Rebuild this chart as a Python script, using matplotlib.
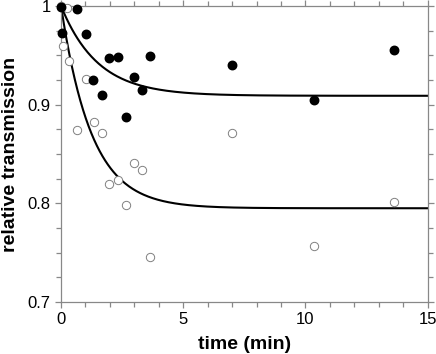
import numpy as np
import matplotlib
matplotlib.use("Agg")
import matplotlib.pyplot as plt
from matplotlib.ticker import MultipleLocator, FixedFormatter, FixedLocator

plt.rcParams['font.family'] = ['Liberation Sans', 'DejaVu Sans']

# filled circles
t_filled = [0.0, 0.05, 0.67, 1.01, 1.32, 1.66, 1.98, 2.32, 2.66, 2.99, 3.33, 3.65, 6.98, 10.33, 13.64]
y_filled = [0.999, 0.973, 0.997, 0.972, 0.925, 0.910, 0.947, 0.948, 0.888, 0.928, 0.915, 0.949, 0.940, 0.905, 0.955]

# open circles
t_open = [0.0, 0.23, 0.07, 0.31, 1.01, 0.67, 1.34, 1.66, 3.0, 3.33, 2.32, 1.98, 2.64, 3.65, 6.98, 10.33, 13.64]
y_open = [1.0, 0.998, 0.959, 0.944, 0.926, 0.874, 0.882, 0.871, 0.841, 0.834, 0.8235, 0.8195, 0.798, 0.746, 0.871, 0.757, 0.801]

# single exponential fits: plateau, amplitude, tau (min)
fit_filled = (0.909, 0.091, 1.5)
fit_open = (0.795, 0.205, 1.25)

fig = plt.figure(figsize=(4.36, 3.54), dpi=100)
ax = fig.add_axes([0.140, 0.147, 0.841, 0.836])

tt = np.linspace(0, 15, 400)
for a, b, tau in (fit_filled, fit_open):
    ax.plot(tt, a + b * np.exp(-tt / tau), color='black', lw=1.5, zorder=2)

ax.plot(t_open, y_open, 'o', ms=6, mfc='white', mec='#808080', mew=0.7,
        clip_on=False, zorder=3)
ax.plot(t_filled, y_filled, 'o', ms=6.1, mfc='black', mec='black',
        clip_on=False, zorder=4)

ax.set_xlim(0, 15)
ax.set_ylim(0.7, 1.0)
ax.xaxis.set_major_locator(FixedLocator([0, 5, 10, 15]))
ax.xaxis.set_minor_locator(MultipleLocator(1))
ax.yaxis.set_major_locator(FixedLocator([0.7, 0.8, 0.9, 1.0]))
ax.yaxis.set_major_formatter(FixedFormatter(['0.7', '0.8', '0.9', '1']))
ax.yaxis.set_minor_locator(MultipleLocator(0.025))

for s in ax.spines.values():
    s.set_color('#888888')
    s.set_linewidth(0.9)
ax.tick_params(which='both', direction='out', color='#888888', width=0.9,
               top=True, right=True, labelsize=12, labelcolor='black')
ax.tick_params(which='major', length=4)
ax.tick_params(which='minor', length=3.5)

ax.set_xlabel('time (min)', fontsize=14, fontweight='bold', labelpad=6)
ax.set_ylabel('relative transmission', fontsize=14, fontweight='bold', labelpad=6)

fig.savefig('out.png', dpi=100)
